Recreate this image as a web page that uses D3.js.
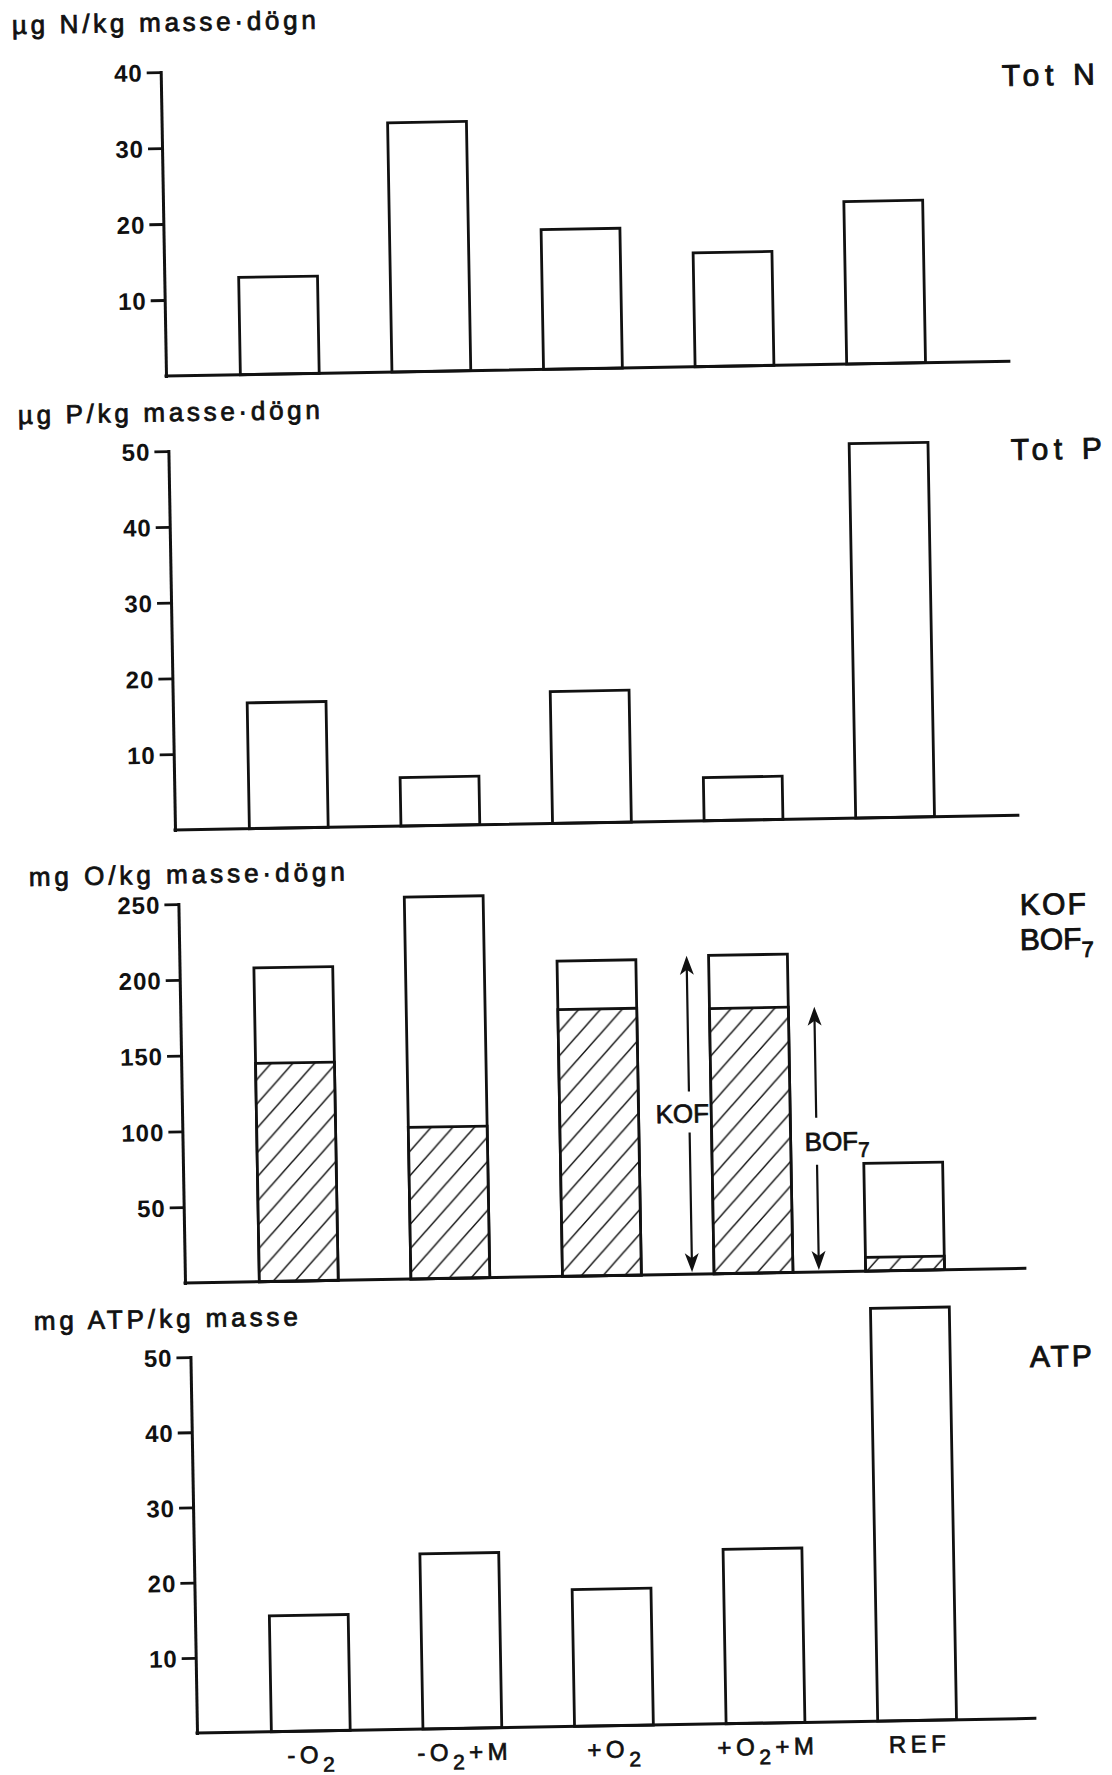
<!DOCTYPE html>
<html>
<head>
<meta charset="utf-8">
<script src="https://cdn.jsdelivr.net/npm/d3@7"></script>
<style>
  body { margin: 0; background: #fff; }
  svg { display: block; }
  text { font-family: "Liberation Sans", Arial, sans-serif; fill: #111; }
</style>
</head>
<body>
<svg id="fig" width="1112" height="1775"></svg>
<script>
// ---- data ----
const categories = ["-O2", "-O2+M", "+O2", "+O2+M", "REF"];

const totN  = [12.8, 32.8, 18.4, 15.0, 21.4];   // µg N/kg masse·dögn
const totP  = [16.6, 6.4, 17.4, 5.7, 49.4];     // µg P/kg masse·dögn
const kof   = [207, 252, 208, 210, 71];         // mg O/kg masse·dögn (whole bar)
const bof7  = [144, 100, 176, 175, 9];          // mg O/kg masse·dögn (hatched part)
const atp   = [15.4, 23.3, 18.2, 23.2, 54.9];   // mg ATP/kg masse

const ticksN   = [10, 20, 30, 40];
const ticksP   = [10, 20, 30, 40, 50];
const ticksO   = [50, 100, 150, 200, 250];
const ticksATP = [10, 20, 30, 40, 50];

const unitN   = "µg N/kg masse·dögn";
const unitP   = "µg P/kg masse·dögn";
const unitO   = "mg O/kg masse·dögn";
const unitATP = "mg ATP/kg masse";

// ---- layout ----
const TILT = -1;          // the whole sheet sits slightly askew
const INK = "#111";

const svg = d3.select("#fig");
const defs = svg.append("defs");

// diagonal "/" hatching for the BOF7 part
const hatch = defs.append("pattern")
  .attr("id", "hatch")
  .attr("patternUnits", "userSpaceOnUse")
  .attr("width", 22).attr("height", 24);
hatch.append("rect").attr("width", 22).attr("height", 24).attr("fill", "#fff");
hatch.append("path")
  .attr("d", "M0,24L22,0M-3,3.27L3,-3.27M19,27.27L25,20.73")
  .attr("stroke", INK).attr("stroke-width", 1.5).attr("fill", "none");

const x = d3.scaleBand()
  .domain(categories)
  .range([38, 796])
  .paddingInner(0.48)
  .paddingOuter(0.24);

const panels = [
  { origin: [166, 376],  axisH: 304, max: 40,  ticks: ticksN,   base: 843, values: totN,
    unit: unitN,   unitAt: [12, 34],   unitLen: 304 },
  { origin: [175, 830],  axisH: 379, max: 50,  ticks: ticksP,   base: 843, values: totP,
    unit: unitP,   unitAt: [18, 424],  unitLen: 302 },
  { origin: [185, 1283], axisH: 379, max: 250, ticks: ticksO,   base: 840, values: kof, hatched: bof7,
    unit: unitO,   unitAt: [29, 886],  unitLen: 316 },
  { origin: [197, 1733], axisH: 376, max: 50,  ticks: ticksATP, base: 838, values: atp,
    unit: unitATP, unitAt: [34, 1330], unitLen: 264, xLabels: true }
];

// writes "O2" with a lowered 2
function chemLabel(textSel, label, subSize, drop) {
  const m = label.match(/^(.*O)2(.*)$/);
  if (!m) { textSel.text(label); return; }
  textSel.append("tspan").text(m[1]);
  textSel.append("tspan").attr("font-size", subSize).attr("dy", drop).text("2");
  if (m[2]) textSel.append("tspan").attr("dy", -drop).text(m[2]);
}

function tiltedText(x0, y0, str, size, len, weight) {
  const t = svg.append("text")
    .attr("x", x0).attr("y", y0)
    .attr("font-size", size)
    .attr("stroke", INK).attr("stroke-width", weight || 0.7)
    .attr("transform", `rotate(${TILT},${x0},${y0})`)
    .text(str);
  if (len) t.attr("textLength", len).attr("lengthAdjust", "spacing");
  return t;
}

panels.forEach(p => {
  const g = svg.append("g")
    .attr("transform", `translate(${p.origin[0]},${p.origin[1]}) rotate(${TILT})`);

  const y = d3.scaleLinear().domain([0, p.max]).range([0, -p.axisH]);
  const rows = categories.map((c, i) => ({ c, v: p.values[i], h: p.hatched ? p.hatched[i] : null }));

  // bars
  g.selectAll("rect.bar").data(rows).join("rect")
    .attr("class", "bar")
    .attr("x", d => x(d.c)).attr("y", d => y(d.v))
    .attr("width", x.bandwidth()).attr("height", d => -y(d.v))
    .attr("fill", "#fff").attr("stroke", INK).attr("stroke-width", 2.8);

  if (p.hatched) {
    g.selectAll("rect.part").data(rows).join("rect")
      .attr("class", "part")
      .attr("x", d => x(d.c)).attr("y", d => y(d.h))
      .attr("width", x.bandwidth()).attr("height", d => -y(d.h))
      .attr("fill", "url(#hatch)").attr("stroke", INK).attr("stroke-width", 2.8);
  }

  // baseline
  g.append("line")
    .attr("x1", 0).attr("x2", p.base).attr("y1", 0).attr("y2", 0)
    .attr("stroke", INK).attr("stroke-width", 3).attr("stroke-linecap", "square");

  // value axis
  const ax = g.append("g").call(
    d3.axisLeft(y).tickValues(p.ticks).tickSize(14).tickSizeOuter(0)
      .tickPadding(4).tickFormat(d3.format("d")));
  ax.select(".domain").attr("stroke", INK).attr("stroke-width", 3).attr("stroke-linecap", "square");
  ax.selectAll(".tick line").attr("stroke", INK).attr("stroke-width", 2.8);
  ax.selectAll(".tick text")
    .attr("font-family", "Liberation Sans, Arial, sans-serif")
    .attr("font-size", 24).attr("font-weight", "bold").attr("fill", INK)
    .attr("letter-spacing", 1).attr("dy", "0.36em");

  // treatment names under the bottom panel
  if (p.xLabels) {
    g.selectAll("text.cat").data(categories).join("text")
      .attr("class", "cat")
      .attr("x", d => x(d) + x.bandwidth() / 2 + 2)
      .attr("y", 32)
      .attr("text-anchor", "middle")
      .attr("font-size", 24)
      .attr("letter-spacing", 4.5)
      .attr("stroke", INK).attr("stroke-width", 0.7)
      .each(function (d) { chemLabel(d3.select(this), d, 21, 9); });
  }

  // KOF / BOF7 arrows between the +O2 and +O2+M bars
  if (p.hatched) {
    const k = categories.indexOf("+O2+M");
    const c = categories[k];
    const head = (u, tip, dir) =>
      `M${u},${tip}L${u + 7},${tip + dir * 19}L${u},${tip + dir * 14}L${u - 7},${tip + dir * 19}Z`;
    const drawArrow = (u, top, gapTop, gapBot) => {
      const bot = -2;
      g.append("path")
        .attr("d", `M${u},${top + 10}V${gapTop}M${u},${gapBot}V${bot - 10}`)
        .attr("stroke", INK).attr("stroke-width", 2.2).attr("fill", "none");
      g.append("path").attr("d", head(u, top, 1)).attr("fill", INK);
      g.append("path").attr("d", head(u, bot, -1)).attr("fill", INK);
    };

    const uK = x(c) - 22;
    const kofBase = y(100);
    drawArrow(uK, y(kof[k]), kofBase - 31, kofBase + 10);
    g.append("text")
      .attr("x", uK - 7).attr("y", kofBase)
      .attr("text-anchor", "middle").attr("font-size", 26)
      .attr("stroke", INK).attr("stroke-width", 0.7)
      .text("KOF");

    const uB = x(c) + x.bandwidth() + 26;
    const bofBase = y(80);
    drawArrow(uB, y(bof7[k]), bofBase - 33, bofBase + 14);
    const bt = g.append("text")
      .attr("x", uB - 12).attr("y", bofBase)
      .attr("font-size", 26)
      .attr("stroke", INK).attr("stroke-width", 0.7);
    bt.append("tspan").text("BOF");
    bt.append("tspan").attr("font-size", 21).attr("dy", 7).text("7");
  }

  // unit caption above the axis
  tiltedText(p.unitAt[0], p.unitAt[1], p.unit, 26, p.unitLen, 0.8);
});

// panel titles on the right
tiltedText(1002, 86, "Tot N", 30, 93, 0.9);
tiltedText(1011, 460, "Tot P", 30, 91, 0.9);
tiltedText(1020, 915, "KOF", 30, 66, 0.9);
const bofTitle = tiltedText(1020, 950, "", 30, null, 0.9);
bofTitle.append("tspan").text("BOF");
bofTitle.append("tspan").attr("font-size", 22).attr("dy", 8).text("7");
tiltedText(1030, 1367, "ATP", 30, 62, 0.9);
</script>
</body>
</html>
